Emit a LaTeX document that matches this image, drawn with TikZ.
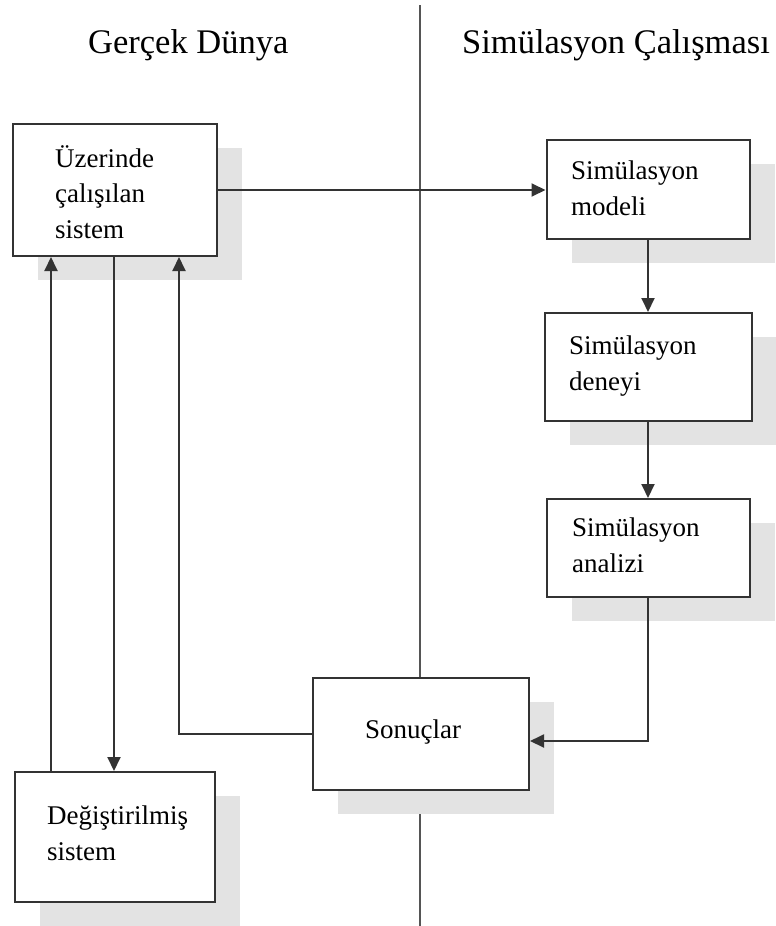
\documentclass[tikz,border=0pt]{standalone}
\usepackage{fontspec}
\setmainfont{Liberation Serif}
\usetikzlibrary{calc,shadows,arrows.meta}

\definecolor{shadowgray}{HTML}{E3E3E3}
\definecolor{linegray}{HTML}{333333}
\definecolor{divgray}{HTML}{555555}

\tikzset{
  stagebox/.style={draw=linegray, line width=2pt, fill=white, inner sep=0pt,
    drop shadow={shadow xshift=25pt, shadow yshift=-24pt, fill=shadowgray, opacity=1}},
  % multi-line labels are anchored at the baseline of their last line
  boxtext/.style={anchor=base west, inner sep=0pt, align=left,
    font=\fontsize{27}{35.5}\selectfont},
  headtext/.style={anchor=base west, inner sep=0pt,
    font=\fontsize{34.5}{40}\selectfont},
  flow/.style={draw=linegray, line width=1.9pt,
    -{Triangle[length=14pt,width=13pt]}},
  divider/.style={draw=divgray, line width=1.5pt}
}

\begin{document}
\begin{tikzpicture}[x=1pt,y=-1pt]
\useasboundingbox (0,0) rectangle (776,926);
\clip (0,0) rectangle (776,926);

% vertical divider between the two worlds
\coordinate (dtop) at (420,5);
\coordinate (dbot) at (420,926);
\draw[divider] (dtop) -- (dbot);

% headings
\node[headtext] (hreal) at (88,53) {Gerçek Dünya};
\node[headtext] (hsim) at (462,53) {Simülasyon Çalışması};

% boxes
\node[stagebox, minimum width=204pt, minimum height=132pt] (b1) at (115,190) {};
\node[stagebox, minimum width=203pt, minimum height=99pt] (b2) at (648,189.5) {};
\node[stagebox, minimum width=207pt, minimum height=108pt] (b3) at (648,367) {};
\node[stagebox, minimum width=203pt, minimum height=98pt] (b4) at (648,548) {};
\node[stagebox, minimum width=216pt, minimum height=112pt] (b5) at (421,734) {};
\node[stagebox, minimum width=200pt, minimum height=130pt] (b6) at (115,837) {};

% box labels
\node[boxtext] (t1) at (55,238) {Üzerinde\\çalışılan\\sistem};
\node[boxtext] (t2) at (571,215) {Simülasyon\\modeli};
\node[boxtext] (t3) at (569,390) {Simülasyon\\deneyi};
\node[boxtext] (t4) at (572,572) {Simülasyon\\analizi};
\node[boxtext] (t5) at (365,738) {Sonuçlar};
\node[boxtext] (t6) at (47,860) {Değiştirilmiş\\sistem};

% connectors
\draw[flow] (b1.east) -- (b1.east -| b2.west);
\draw[flow] (b2.south) -- (b3.north);
\draw[flow] (b3.south) -- (b4.north);
\draw[flow] (b4.south) |- ($(b5.east)+(0,7)$);
\draw[flow] (b5.west) -| ($(b1.south east)+(-39,0)$);
\draw[flow] ($(b1.south west)+(102,0)$) -- ($(b6.north west)+(100,0)$);
\draw[flow] ($(b6.north west)+(37,0)$) -- ($(b1.south west)+(39,0)$);
\end{tikzpicture}
\end{document}
